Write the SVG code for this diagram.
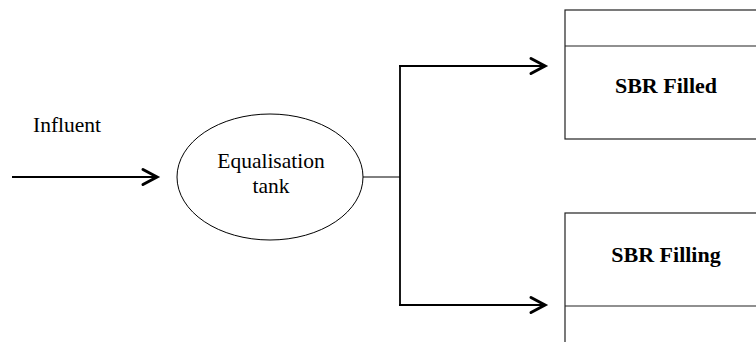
<svg xmlns="http://www.w3.org/2000/svg" width="756" height="342" viewBox="0 0 756 342">
<style>
.ln{fill:none;stroke:#000;stroke-width:1.8}
.thin{fill:none;stroke:#000;stroke-width:1}
.box{fill:#fff;stroke:#222;stroke-width:1.2}
.t{font-family:"Liberation Serif",serif;font-size:21.5px;fill:#000}
.b{font-family:"Liberation Serif",serif;font-size:22px;font-weight:bold;fill:#000}
</style>
<defs>
<marker id="ah" viewBox="0 0 10 10" refX="9" refY="5" markerWidth="10" markerHeight="10" markerUnits="userSpaceOnUse" orient="auto" overflow="visible">
<path d="M-5,-2.5 L9,5 L-5,12.5" fill="none" stroke="#000" stroke-width="3" stroke-linecap="round" stroke-linejoin="miter"/>
</marker>
</defs>
<rect width="756" height="342" fill="#fff"/>
<g id="influent-label"><text class="t" x="33" y="132">Influent</text></g>
<g id="equalisation">
<ellipse cx="270" cy="177" rx="93" ry="63" class="thin"/>
<text class="t" x="271" y="168" text-anchor="middle">Equalisation</text>
<text class="t" x="271" y="193" text-anchor="middle">tank</text>
</g>
<g id="sbr-filled">
<rect x="565" y="10" width="200" height="129" class="box"/>
<line x1="565" y1="46" x2="756" y2="46" stroke="#222" stroke-width="1.2"/>
<text class="b" x="666" y="93" text-anchor="middle">SBR Filled</text>
</g>
<g id="sbr-filling">
<rect x="565" y="213" width="200" height="140" class="box"/>
<line x1="565" y1="306" x2="756" y2="306" stroke="#222" stroke-width="1.2"/>
<text class="b" x="666" y="262" text-anchor="middle">SBR Filling</text>
</g>
<g id="connectors">
<line x1="12" y1="177" x2="157" y2="177" class="ln" marker-end="url(#ah)"/>
<line x1="363" y1="177" x2="400" y2="177" class="thin"/>
<line x1="400" y1="66" x2="400" y2="306" class="ln"/>
<polyline points="399,66 545,66" class="ln" marker-end="url(#ah)"/>
<polyline points="399,305 545,305" class="ln" marker-end="url(#ah)"/>
</g>
</svg>
